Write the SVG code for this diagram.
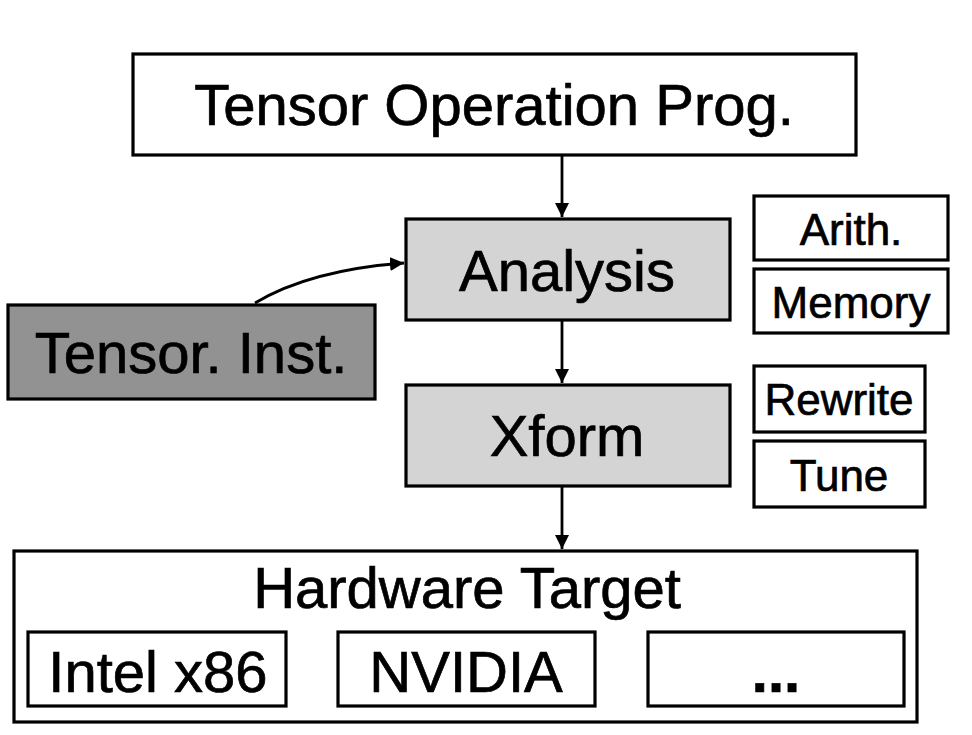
<svg xmlns="http://www.w3.org/2000/svg" width="972" height="735" viewBox="0 0 972 735">
<style>
.box{fill:#ffffff;stroke:#000;stroke-width:3.2}
.light{fill:#d4d4d4;stroke:#000;stroke-width:3.2}
.dark{fill:#929292;stroke:#000;stroke-width:3.2}
.t{font-family:"Liberation Sans",Arial,sans-serif;fill:#000;stroke:#000;stroke-width:0.7;text-anchor:middle}
.big{font-size:58px}
.small{font-size:44px}
.conn{fill:none;stroke:#000;stroke-width:2.8}
</style>
<defs>
<marker id="arr" markerWidth="14" markerHeight="14" refX="10" refY="5" orient="auto" markerUnits="userSpaceOnUse" viewBox="0 0 10 10">
<path d="M0,0 L10,5 L0,10 Z" fill="#000"/>
</marker>
</defs>
<rect width="972" height="735" fill="#fff"/>
<g id="connectors">
<line class="conn" x1="562" y1="155" x2="562" y2="217" marker-end="url(#arr)"/>
<line class="conn" x1="562" y1="320" x2="562" y2="383" marker-end="url(#arr)"/>
<line class="conn" x1="562" y1="487" x2="562" y2="549" marker-end="url(#arr)"/>
<path class="conn" d="M255,303 Q310,270 404,263" marker-end="url(#arr)"/>
</g>
<g id="prog">
<rect class="box" x="133" y="54" width="723" height="101"/>
<text class="t big" x="494" y="125">Tensor Operation Prog.</text>
</g>
<g id="analysis">
<rect class="light" x="406" y="219" width="324" height="101"/>
<text class="t big" x="567" y="291">Analysis</text>
</g>
<g id="xform">
<rect class="light" x="406" y="385" width="324" height="101"/>
<text class="t big" x="567" y="456">Xform</text>
</g>
<g id="inst">
<rect class="dark" x="8" y="305" width="367" height="94"/>
<text class="t big" x="191" y="373">Tensor. Inst.</text>
</g>
<g id="arith">
<rect class="box" x="754" y="196" width="194" height="64"/>
<text class="t small" x="851" y="245">Arith.</text>
</g>
<g id="memory">
<rect class="box" x="754" y="269" width="194" height="64"/>
<text class="t small" x="851" y="318">Memory</text>
</g>
<g id="rewrite">
<rect class="box" x="754" y="366" width="171" height="66"/>
<text class="t small" x="839" y="415">Rewrite</text>
</g>
<g id="tune">
<rect class="box" x="754" y="441" width="171" height="66"/>
<text class="t small" x="839" y="491">Tune</text>
</g>
<g id="hardware">
<rect class="box" x="14" y="551" width="903" height="171"/>
<text class="t big" x="467" y="608">Hardware Target</text>
</g>
<g id="intel">
<rect class="box" x="28" y="632" width="258" height="74"/>
<text class="t big" x="158" y="692">Intel x86</text>
</g>
<g id="nvidia">
<rect class="box" x="338" y="632" width="257" height="74"/>
<text class="t big" x="466" y="692">NVIDIA</text>
</g>
<g id="more">
<rect class="box" x="648" y="632" width="256" height="74"/>
<text class="t big" x="776" y="692" font-weight="bold">...</text>
</g>
</svg>
